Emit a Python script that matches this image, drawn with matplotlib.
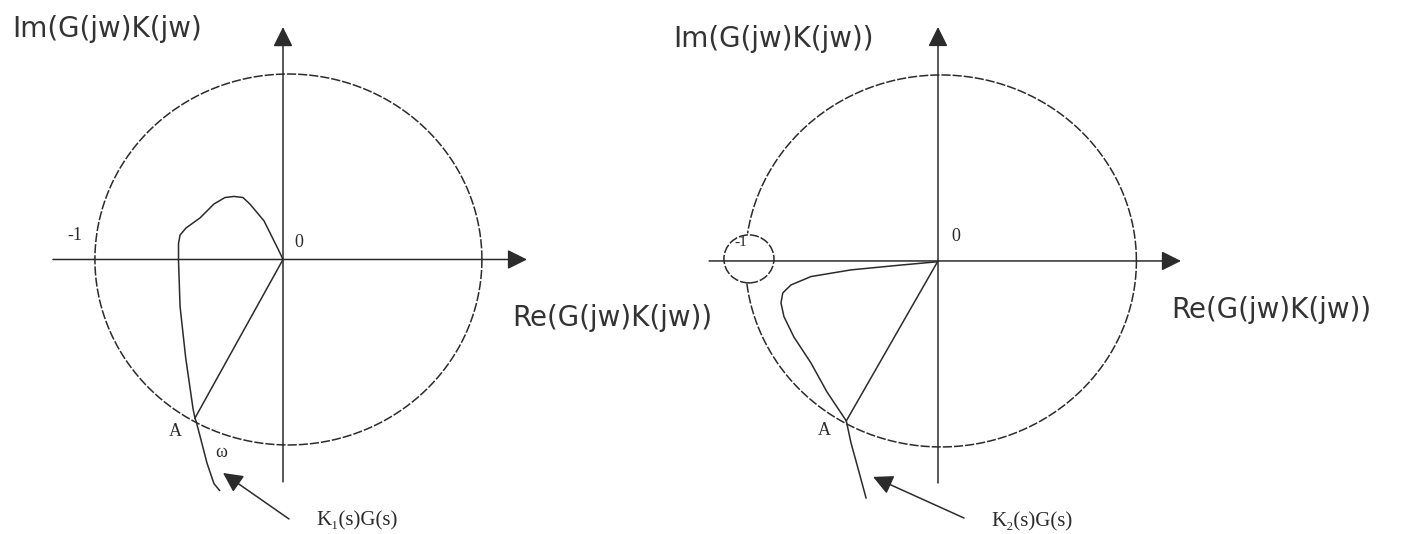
import numpy as np
import matplotlib.pyplot as plt
from matplotlib.patches import Ellipse

plt.rcParams['font.family'] = ['Liberation Serif', 'DejaVu Serif']

# Nyquist locus of K1(s)G(s), (Re, Im) in the GK plane
k1_re = [0.0, -0.023, -0.098, -0.171, -0.207, -0.253, -0.300, -0.357, -0.429, -0.501,
         -0.532, -0.540, -0.540, -0.532, -0.503, -0.465, -0.455, -0.448, -0.420, -0.393,
         -0.357, -0.328]
k1_im = [0.0, 0.051, 0.208, 0.299, 0.334, 0.340, 0.334, 0.299, 0.224, 0.170,
         0.132, 0.086, -0.005, -0.253, -0.529, -0.804, -0.855, -0.876, -0.988, -1.097,
         -1.208, -1.245]

# Nyquist locus of K2(s)G(s)
k2_re = [-0.010, -0.189, -0.445, -0.650, -0.752, -0.794, -0.803, -0.788, -0.737, -0.650,
         -0.568, -0.469, -0.445, -0.406, -0.368]
k2_im = [-0.005, -0.022, -0.048, -0.084, -0.129, -0.172, -0.226, -0.299, -0.409, -0.548,
         -0.704, -0.860, -0.978, -1.127, -1.274]

# point A: locus crossing the unit circle
a1 = (-0.455, -0.855)
a2 = (-0.469, -0.860)

# small circle around the -1 point (right plot)
crit_center = (-0.967, 0.011)
crit_radius = (0.128, 0.129)

INK = '#2b2b2b'
LW = 1.1
AXIS_FONT = dict(fontsize=20, color='#333333', va='center', ha='left',
                 family=['DejaVu Sans'])
SMALL = dict(fontsize=13, color=INK, ha='center', va='center')


def draw_axes(ax, x_span, y_span):
    ax.annotate('', xy=(x_span[1], 0), xytext=(x_span[0], 0),
                arrowprops=dict(arrowstyle='-|>', mutation_scale=30, color=INK,
                                lw=LW, shrinkA=0, shrinkB=0))
    ax.annotate('', xy=(0, y_span[1]), xytext=(0, y_span[0]),
                arrowprops=dict(arrowstyle='-|>', mutation_scale=30, color=INK,
                                lw=LW, shrinkA=0, shrinkB=0))


def unit_circle(ax, cx, hole=None):
    t = np.linspace(0, 2 * np.pi, 721)
    x = cx + np.cos(t)
    y = np.sin(t)
    if hole is not None:
        (hx, hy), (rx, ry) = hole
        inside = ((x - hx) / rx) ** 2 + ((y - hy) / ry) ** 2 < 1.0
        x = np.where(inside, np.nan, x)
        y = np.where(inside, np.nan, y)
    ax.plot(x, y, color=INK, lw=LW, ls=(0, (6, 1.3)))


fig = plt.figure(figsize=(14.06, 5.34), dpi=100)
ax1 = fig.add_axes([0, 0, 0.5, 1])
ax2 = fig.add_axes([0.5, 0, 0.5, 1])

# ---- left: K1(s)G(s)
ax1.set_xlim(-1.4625, 2.1705)
ax1.set_ylim(-1.480, 1.399)
draw_axes(ax1, (-1.189, 1.261), (-1.199, 1.253))
unit_circle(ax1, 0.028)
ax1.plot(k1_re, k1_im, color=INK, lw=LW)
ax1.plot([0, a1[0]], [0, a1[1]], color=INK, lw=LW)
ax1.annotate('', xy=(-0.310, -1.151), xytext=(0.031, -1.399),
             arrowprops=dict(arrowstyle='-|>', mutation_scale=30, color=INK,
                             lw=LW, shrinkA=0, shrinkB=0))
ax1.text(-1.40, 1.243, 'Im(G(jw)K(jw)', **AXIS_FONT)
ax1.text(1.183, -0.315, 'Re(G(jw)K(jw))', **AXIS_FONT)
ax1.text(-1.075, 0.132, '-1', **SMALL)
ax1.text(0.083, 0.094, '0', **SMALL)
ax1.text(a1[0] - 0.10, a1[1] - 0.07, 'A', **SMALL)
ax1.text(-0.320, -1.043, 'ω', **SMALL)
ax1.text(0.382, -1.410, 'K₁(s)G(s)', **dict(SMALL, fontsize=15))

# ---- right: K2(s)G(s)
ax2.set_xlim(-1.202, 2.394)
ax2.set_ylim(-1.468, 1.403)
draw_axes(ax2, (-1.171, 1.243), (-1.194, 1.258))
unit_circle(ax2, 0.015, hole=(crit_center, crit_radius))
ax2.add_patch(Ellipse(crit_center, 2 * crit_radius[0], 2 * crit_radius[1], fill=False,
                      ec=INK, lw=LW, ls=(0, (6, 1.3))))
ax2.plot(k2_re, k2_im, color=INK, lw=LW)
ax2.plot([0, a2[0]], [0, a2[1]], color=INK, lw=LW)
ax2.annotate('', xy=(-0.332, -1.161), xytext=(0.133, -1.382),
             arrowprops=dict(arrowstyle='-|>', mutation_scale=30, color=INK,
                             lw=LW, shrinkA=0, shrinkB=0))
ax2.text(-1.355, 1.194, 'Im(G(jw)K(jw))', **AXIS_FONT)
ax2.text(1.192, -0.263, 'Re(G(jw)K(jw))', **AXIS_FONT)
ax2.text(-1.008, 0.097, '-1', **dict(SMALL, fontsize=11))
ax2.text(0.092, 0.129, '0', **SMALL)
ax2.text(a2[0] - 0.11, a2[1] - 0.05, 'A', **SMALL)
ax2.text(0.481, -1.403, 'K₂(s)G(s)', **dict(SMALL, fontsize=15))

for ax in (ax1, ax2):
    ax.axis('off')

fig.savefig('out.png', dpi=100)
